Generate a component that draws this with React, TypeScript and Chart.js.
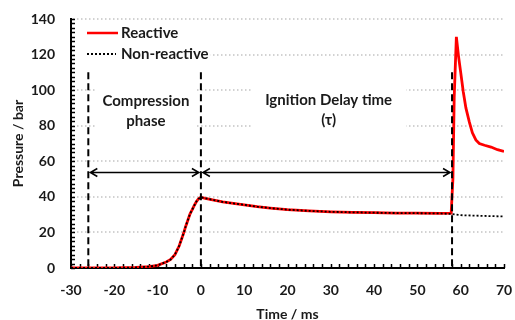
import React, { useEffect, useRef } from "react";
import { Chart, registerables } from "chart.js";

Chart.register(...registerables);

// ---- data ----
const reactiveTime = [
  -30, -25, -20, -15, -12, -10, -8, -7, -6, -5, -4, -3.5, -3, -2.5, -2, -1.5, -1, -0.5, 0, 1,
  3, 5, 7.5, 10, 13, 16, 20, 25, 30, 35, 40, 45, 50, 55, 57.8, 58.2, 58.5, 59, 59.5, 60,
  60.6, 61.2, 62, 62.7, 63.5, 64.3, 65.5, 67, 68.5, 70,
];
const reactivePressure = [
  0, 0, 0.1, 0.3, 0.8, 1.5, 3.4, 4.8, 7.5, 12.5, 19.5, 23.5, 27, 30.5, 32.8, 35.3, 37.5, 39, 39.8, 39.2,
  38.2, 37.2, 36.3, 35.5, 34.5, 33.7, 32.8, 32.1, 31.6, 31.3, 31.1, 30.9, 30.8, 30.7, 30.9, 50, 96, 130, 119, 110,
  99, 90, 82, 76, 72, 70, 69, 68, 66.5, 65.5,
];
const nonReactiveTime = [
  -30, -25, -20, -15, -12, -10, -8, -7, -6, -5, -4, -3.5, -3, -2.5, -2, -1.5, -1, -0.5, 0, 1,
  3, 5, 7.5, 10, 13, 16, 20, 25, 30, 35, 40, 45, 50, 55, 57.8, 60, 65, 70,
];
const nonReactivePressure = [
  0, 0, 0.1, 0.3, 0.8, 1.5, 3.4, 4.8, 7.5, 12.5, 19.5, 23.5, 27, 30.5, 32.8, 35.3, 37.5, 39, 39.8, 39.2,
  38.2, 37.2, 36.3, 35.5, 34.5, 33.7, 32.8, 32.1, 31.6, 31.3, 31.1, 30.9, 30.8, 30.7, 30.4, 29.7, 29.3, 29.0,
];
const seriesNames = ["Reactive", "Non-reactive"];
const xRange = [-30, 70];
const xStep = 10;
const xMinorStep = 2;
const yRange = [0, 140];
const yStep = 20;
const yMinorStep = 2.5;
const phaseMarkers = [-26, 0, 58];
const markerTop = 110;
const arrowLevel = 54;
const phaseTexts = [
  { lines: ["Compression", "phase"], x: -12.7, y: 88, pad: 6 },
  { lines: ["Ignition Delay time", "(τ)"], x: 29.5, y: 88.5, pad: 14 },
];

const FONT = "Lato, 'Open Sans', sans-serif";

const overlayPlugin = {
  id: "overlay",
  beforeDatasetsDraw(chart: any) {
    const { ctx, scales, chartArea } = chart;
    const x = scales.x;
    const y = scales.y;
    ctx.save();
    // dotted gridlines
    ctx.strokeStyle = "#c4c4c4";
    ctx.lineWidth = 1.5;
    ctx.setLineDash([1.5, 2.5]);
    for (let v = yRange[0] + yStep; v <= yRange[1] + 1e-6; v += yStep) {
      const py = Math.round(y.getPixelForValue(v));
      ctx.beginPath();
      ctx.moveTo(chartArea.left + 2, py);
      ctx.lineTo(chartArea.right, py);
      ctx.stroke();
    }
    ctx.setLineDash([]);
    ctx.font = `bold 15px ${FONT}`;
    ctx.fillStyle = "#ffffff";
    // white backing boxes for texts
    phaseTexts.forEach((t) => {
      const w = Math.max(...t.lines.map((l) => ctx.measureText(l).width));
      const cx = x.getPixelForValue(t.x);
      const cy = y.getPixelForValue(t.y);
      ctx.fillRect(cx - w / 2 - t.pad, cy - 24, w + 2 * t.pad, 48);
    });
    // legend box
    const lx = chartArea.left + 6;
    const lw = 44 + ctx.measureText(seriesNames[1]).width + 2;
    ctx.fillRect(lx, chartArea.top + 4, lw, 44);
    // minor ticks
    ctx.strokeStyle = "#000";
    ctx.lineWidth = 1.5;
    ctx.beginPath();
    for (let v = xRange[0]; v <= xRange[1] + 1e-6; v += xMinorStep) {
      const px = Math.round(x.getPixelForValue(v)) + 0.5;
      ctx.moveTo(px, chartArea.bottom);
      ctx.lineTo(px, chartArea.bottom - 4);
    }
    for (let v = yRange[0]; v <= yRange[1] + 1e-6; v += yMinorStep) {
      const py = Math.round(y.getPixelForValue(v)) + 0.5;
      ctx.moveTo(chartArea.left, py);
      ctx.lineTo(chartArea.left + 4, py);
    }
    ctx.stroke();
    ctx.restore();
  },
  afterDatasetsDraw(chart: any) {
    const { ctx, scales, chartArea } = chart;
    const x = scales.x;
    const y = scales.y;
    ctx.save();
    // dashed phase markers
    ctx.strokeStyle = "#000";
    ctx.lineWidth = 2;
    ctx.setLineDash([7, 4]);
    phaseMarkers.forEach((m) => {
      const px = x.getPixelForValue(m);
      ctx.beginPath();
      ctx.moveTo(px, y.getPixelForValue(markerTop));
      ctx.lineTo(px, chartArea.bottom);
      ctx.stroke();
    });
    ctx.setLineDash([]);
    // double arrows
    const ay = Math.round(y.getPixelForValue(arrowLevel)) + 0.5;
    ctx.lineWidth = 1.5;
    for (let i = 0; i < phaseMarkers.length - 1; i++) {
      const x1 = x.getPixelForValue(phaseMarkers[i]) + 2;
      const x2 = x.getPixelForValue(phaseMarkers[i + 1]) - 2;
      ctx.beginPath();
      ctx.moveTo(x1, ay);
      ctx.lineTo(x2, ay);
      ctx.moveTo(x1 + 7, ay - 4);
      ctx.lineTo(x1, ay);
      ctx.lineTo(x1 + 7, ay + 4);
      ctx.moveTo(x2 - 7, ay - 4);
      ctx.lineTo(x2, ay);
      ctx.lineTo(x2 - 7, ay + 4);
      ctx.stroke();
    }
    // texts
    ctx.font = `bold 15px ${FONT}`;
    ctx.fillStyle = "#1a1a1a";
    ctx.textAlign = "center";
    ctx.textBaseline = "middle";
    phaseTexts.forEach((t) => {
      const cx = x.getPixelForValue(t.x);
      const cy = y.getPixelForValue(t.y);
      t.lines.forEach((l, i) => ctx.fillText(l, cx, cy - 10 + i * 20));
    });
    // legend
    const lx = chartArea.left + 16;
    const rows = [chartArea.top + 14, chartArea.top + 35];
    ctx.strokeStyle = "#ff0000";
    ctx.lineWidth = 2.5;
    ctx.beginPath();
    ctx.moveTo(lx, rows[0]);
    ctx.lineTo(lx + 31, rows[0]);
    ctx.stroke();
    ctx.strokeStyle = "#000";
    ctx.lineWidth = 2;
    ctx.setLineDash([2, 2]);
    ctx.beginPath();
    ctx.moveTo(lx, rows[1]);
    ctx.lineTo(lx + 29, rows[1]);
    ctx.stroke();
    ctx.setLineDash([]);
    ctx.textAlign = "left";
    ctx.fillText(seriesNames[0], lx + 34, rows[0]);
    ctx.fillText(seriesNames[1], lx + 34, rows[1]);
    ctx.restore();
  },
};

export default function App() {
  const ref = useRef<HTMLCanvasElement>(null);
  useEffect(() => {
    document.body.style.margin = "0";
    const chart = new Chart(ref.current!, {
      type: "line",
      data: {
        datasets: [
          {
            label: seriesNames[0],
            data: reactiveTime.map((t, i) => ({ x: t, y: reactivePressure[i] })),
            borderColor: "#ff0000",
            borderWidth: 2.8,
            pointRadius: 0,
            tension: 0,
            order: 1,
          },
          {
            label: seriesNames[1],
            data: nonReactiveTime.map((t, i) => ({ x: t, y: nonReactivePressure[i] })),
            borderColor: "#000000",
            borderWidth: 1.8,
            borderDash: [2, 2],
            pointRadius: 0,
            tension: 0,
            order: 0,
          },
        ],
      },
      options: {
        responsive: false,
        animation: false,
        layout: { padding: { top: 19, right: 11, left: 0, bottom: 0 } },
        plugins: { legend: { display: false }, tooltip: { enabled: false } },
        scales: {
          x: {
            type: "linear",
            min: xRange[0],
            max: xRange[1],
            afterFit: (s: any) => {
              s.height = 52;
              s.paddingLeft = 0;
              s.paddingRight = 0;
            },
            ticks: {
              stepSize: xStep,
              padding: 14,
              color: "#1a1a1a",
              font: { family: FONT, size: 14, weight: "bold" },
            },
            grid: { display: false, drawTicks: false },
            border: { display: true, color: "#000", width: 2 },
            title: {
              display: true,
              text: "Time / ms",
              color: "#1a1a1a",
              font: { family: FONT, size: 14, weight: "bold", lineHeight: 1 },
              padding: { top: 0, bottom: -1 },
            },
          },
          y: {
            min: yRange[0],
            max: yRange[1],
            afterFit: (s: any) => {
              s.width = 71;
              s.paddingTop = 0;
              s.paddingBottom = 0;
            },
            ticks: {
              stepSize: yStep,
              padding: 16,
              color: "#1a1a1a",
              font: { family: FONT, size: 14, weight: "bold" },
            },
            grid: { display: false, drawTicks: false },
            border: { display: true, color: "#000", width: 2 },
            title: {
              display: true,
              text: "Pressure / bar",
              color: "#1a1a1a",
              font: { family: FONT, size: 14, weight: "bold", lineHeight: 1.2 },
              padding: { top: 10, bottom: 0 },
            },
          },
        },
      },
      plugins: [overlayPlugin],
    } as any);
    return () => chart.destroy();
  }, []);
  return (
    <div style={{ width: 515, height: 320 }}>
      <canvas ref={ref} width={515} height={320} />
    </div>
  );
}
